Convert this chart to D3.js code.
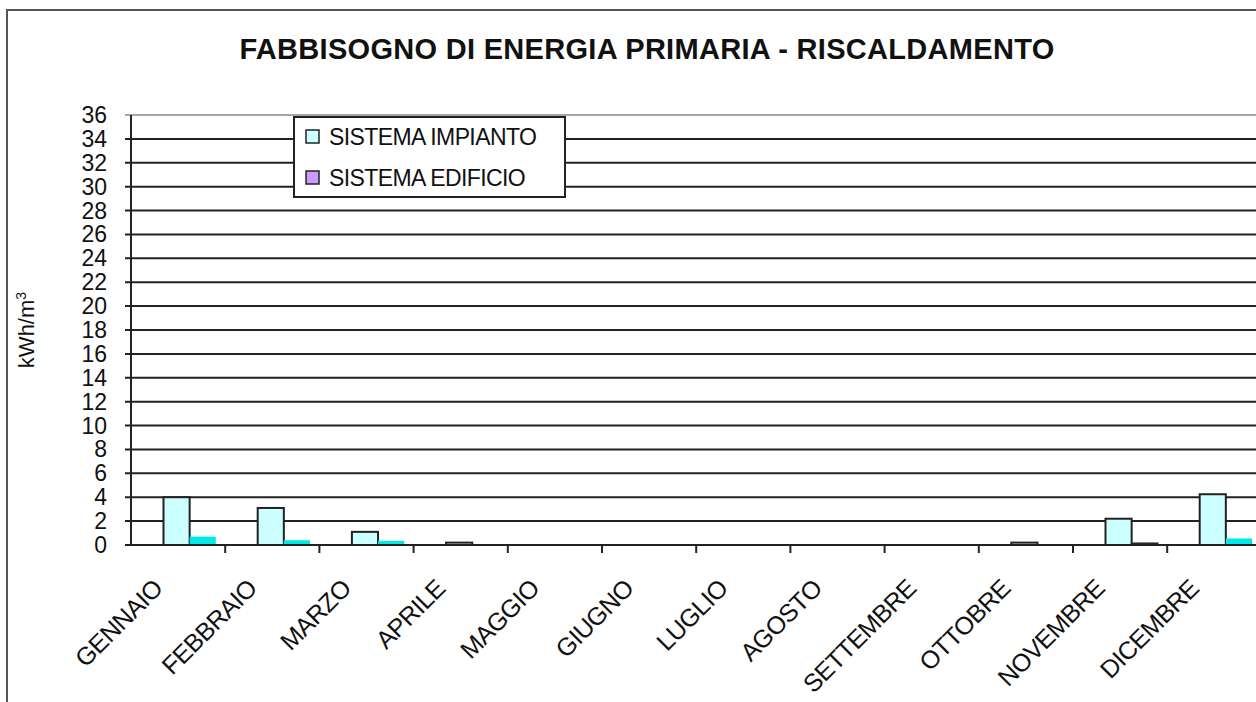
<!DOCTYPE html>
<html>
<head>
<meta charset="utf-8">
<script src="https://cdn.jsdelivr.net/npm/d3@7"></script>
<style>
  body { margin: 0; background: #fff; }
  text { font-family: "Liberation Sans", Arial, sans-serif; fill: #111; }
</style>
</head>
<body>
<script>
// months on the x axis
var months = ["GENNAIO", "FEBBRAIO", "MARZO", "APRILE", "MAGGIO", "GIUGNO",
  "LUGLIO", "AGOSTO", "SETTEMBRE", "OTTOBRE", "NOVEMBRE", "DICEMBRE"];
// kWh/m3 per month
var impianto = [4.0, 3.1, 1.1, 0.2, 0, 0, 0, 0, 0, 0.2, 2.2, 4.25];
var edificio = [0.7, 0.4, 0.35, 0, 0, 0, 0, 0, 0, 0, 0.15, 0.55];
var seriesNames = ["SISTEMA IMPIANTO", "SISTEMA EDIFICIO"];
var legendColors = ["#ccffff", "#cc99ff"];
var yTicks = d3.range(0, 37, 2);

var width = 1256, height = 702;
var x0 = 131, y0 = 545, yTop = 115;

var svg = d3.select("body").append("svg")
  .attr("width", width)
  .attr("height", height);

// outer chart frame (cut off on right/bottom)
svg.append("rect")
  .attr("x", 7).attr("y", 10)
  .attr("width", 1300).attr("height", 800)
  .attr("fill", "none")
  .attr("stroke", "#555")
  .attr("stroke-width", 2);

svg.append("text")
  .attr("x", 647).attr("y", 59)
  .attr("text-anchor", "middle")
  .style("font-size", "29px")
  .style("font-weight", "bold")
  .style("letter-spacing", "0.3px")
  .text("FABBISOGNO DI ENERGIA PRIMARIA - RISCALDAMENTO");

var x = d3.scaleBand()
  .domain(months)
  .range([x0, x0 + 12 * 94.2]);

var xs = d3.scaleBand()
  .domain(seriesNames)
  .range([x.bandwidth() * 0.345, x.bandwidth() * 0.9]);

var y = d3.scaleLinear()
  .domain([0, 36])
  .range([y0, yTop]);

// gridlines
svg.append("g")
  .selectAll("line")
  .data(yTicks)
  .enter()
  .append("line")
  .attr("x1", x0 - 6)
  .attr("x2", width + 10)
  .attr("y1", function(d) { return y(d); })
  .attr("y2", function(d) { return y(d); })
  .attr("stroke", function(d) { return d == 36 ? "#888" : "#222"; })
  .attr("stroke-width", function(d) { return d == 36 ? 1.5 : 2; });

// y tick labels
svg.append("g")
  .selectAll("text")
  .data(yTicks)
  .enter()
  .append("text")
  .attr("x", 107)
  .attr("y", function(d) { return y(d) + 8; })
  .attr("text-anchor", "end")
  .style("font-size", "23px")
  .text(function(d) { return d; });

// y axis title
svg.append("text")
  .attr("transform", "translate(34," + ((y0 + yTop) / 2) + ") rotate(-90)")
  .attr("text-anchor", "middle")
  .style("font-size", "22px")
  .html("kWh/m<tspan dy='-8' style='font-size:14px'>3</tspan>");

// bars
var groups = svg.append("g")
  .selectAll("g")
  .data(months)
  .enter()
  .append("g")
  .attr("transform", function(d) { return "translate(" + x(d) + ",0)"; });

groups.append("rect")
  .attr("x", xs(seriesNames[0]))
  .attr("width", xs.bandwidth())
  .attr("y", function(d, i) { return y(impianto[i]); })
  .attr("height", function(d, i) { return y0 - y(impianto[i]); })
  .attr("fill", "#ccffff")
  .attr("stroke", function(d, i) { return impianto[i] > 0 ? "#222" : "none"; })
  .attr("stroke-width", 2);

groups.append("rect")
  .attr("x", xs(seriesNames[1]))
  .attr("width", xs.bandwidth())
  .attr("y", function(d, i) { return y(edificio[i]); })
  .attr("height", function(d, i) { return y0 - y(edificio[i]); })
  .attr("fill", "#00e8e8")
  .attr("stroke", function(d, i) { return edificio[i] > 0 && edificio[i] < 0.2 ? "#222" : "none"; })
  .attr("stroke-width", 1.5);

// axes lines
svg.append("line")
  .attr("x1", x0).attr("x2", x0)
  .attr("y1", yTop).attr("y2", y0 + 1)
  .attr("stroke", "#222").attr("stroke-width", 2);
svg.append("line")
  .attr("x1", x0).attr("x2", width + 10)
  .attr("y1", y0).attr("y2", y0)
  .attr("stroke", "#222").attr("stroke-width", 2);

// x ticks at category boundaries
svg.append("g")
  .selectAll("line")
  .data(months)
  .enter()
  .append("line")
  .attr("x1", function(d) { return x(d) + x.bandwidth(); })
  .attr("x2", function(d) { return x(d) + x.bandwidth(); })
  .attr("y1", y0).attr("y2", y0 + 8)
  .attr("stroke", "#222").attr("stroke-width", 2);

// x labels
svg.append("g")
  .selectAll("text")
  .data(months)
  .enter()
  .append("text")
  .attr("transform", function(d) {
    return "translate(" + (x(d) + x.bandwidth() / 2 - 14) + ",590) rotate(-45)";
  })
  .attr("text-anchor", "end")
  .style("font-size", "25px")
  .style("letter-spacing", "-0.6px")
  .text(function(d) { return d; });

// legend
var legend = svg.append("g").attr("transform", "translate(294,117)");
legend.append("rect")
  .attr("width", 271).attr("height", 80)
  .attr("fill", "#fff")
  .attr("stroke", "#222").attr("stroke-width", 2);
var items = legend.selectAll("g.item")
  .data(seriesNames)
  .enter()
  .append("g")
  .attr("class", "item")
  .attr("transform", function(d, i) { return "translate(12," + (20 + i * 41) + ")"; });
items.append("rect")
  .attr("x", 0).attr("y", -7)
  .attr("width", 13).attr("height", 13)
  .attr("fill", function(d, i) { return legendColors[i]; })
  .attr("stroke", "#222").attr("stroke-width", 1.5);
items.append("text")
  .attr("x", 23).attr("y", 8)
  .style("font-size", "23px")
  .style("letter-spacing", "-0.6px")
  .text(function(d) { return d; });
</script>
</body>
</html>
